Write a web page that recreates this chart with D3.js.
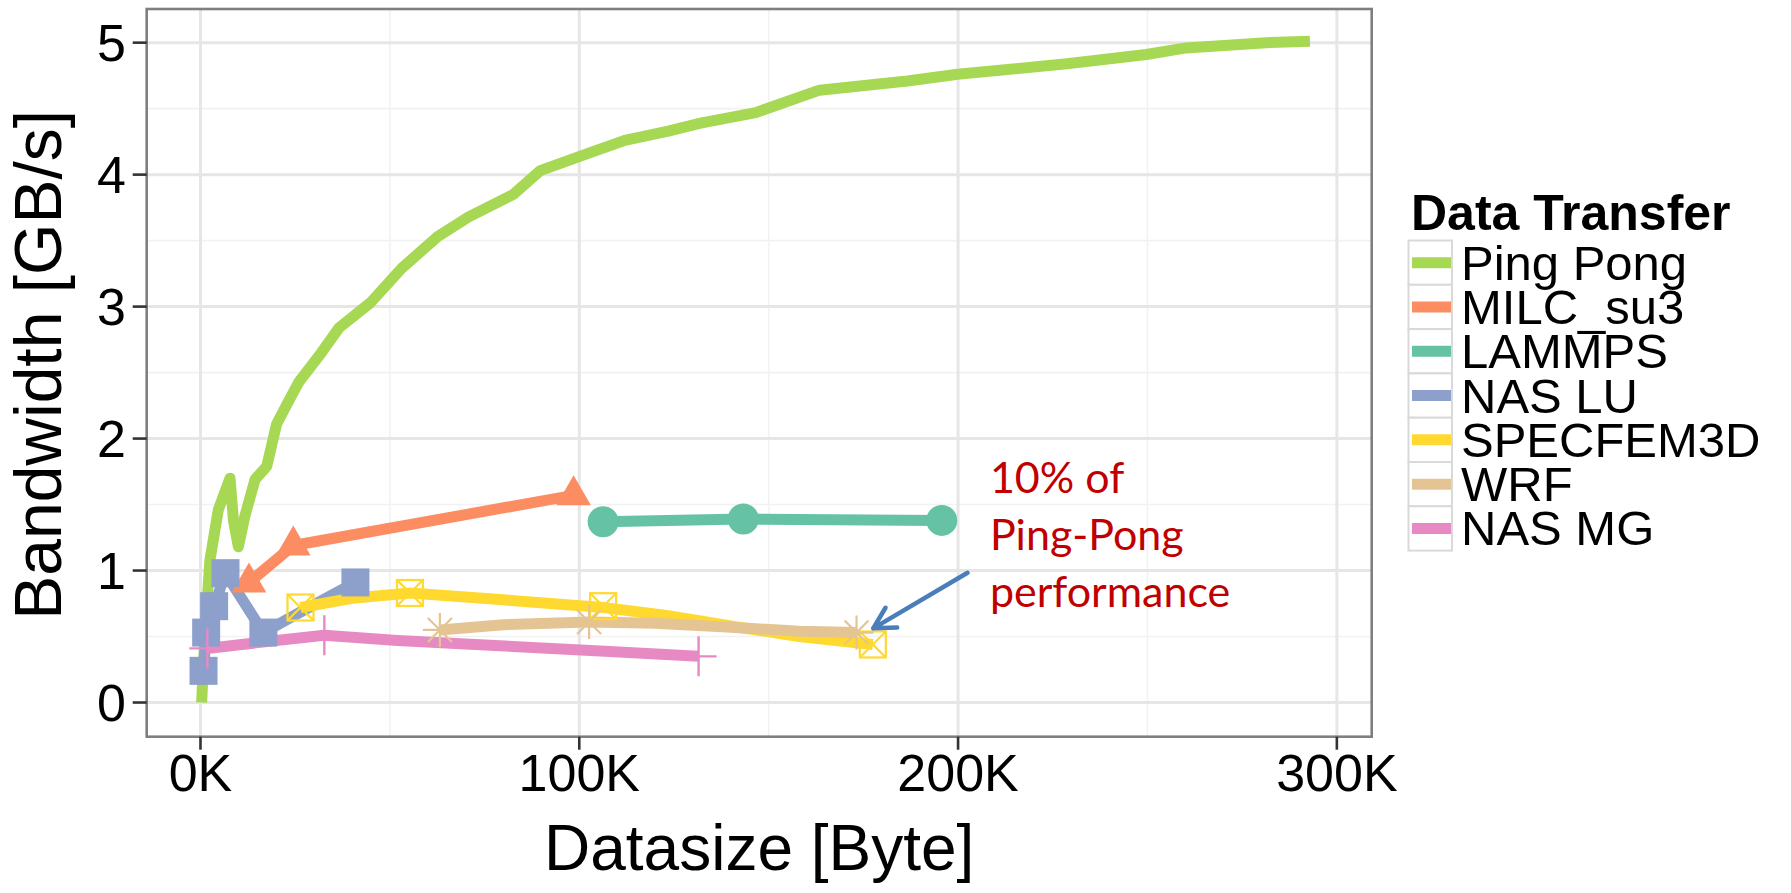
<!DOCTYPE html>
<html><head><meta charset="utf-8">
<script src="https://cdn.jsdelivr.net/npm/d3@7"></script>
<style>
html,body{margin:0;padding:0;background:#fff;}
svg{display:block;}
</style></head>
<body>
<svg id="chart" width="1791" height="893"></svg>
<script>
// ---- data (x in K bytes, y in GB/s) ----
const seriesNames = ["Ping Pong","MILC_su3","LAMMPS","NAS LU","SPECFEM3D","WRF","NAS MG"];
const seriesColors = ["#A6D854","#FC8D62","#66C2A5","#8DA0CB","#FFD92F","#E5C494","#E78AC3"];

const pingPongLine = [[0.3,0.00],[1.2,0.53],[2.5,1.08],[4.7,1.46],[7.8,1.70],[8.7,1.38],[10.0,1.18],[11.7,1.41],[14.4,1.69],[17.5,1.79],[20.1,2.11],[23.0,2.27],[26.0,2.43],[31.9,2.65],[36.6,2.84],[44.9,3.03],[53.1,3.29],[62.6,3.53],[70.8,3.68],[82.6,3.85],[89.7,4.03],[100.3,4.14],[112.0,4.26],[123.5,4.33],[132.0,4.39],[146.6,4.47],[163.4,4.64],[186.6,4.71],[199.9,4.76],[228.7,4.84],[249.7,4.91],[260.2,4.96],[281.3,5.00],[292.9,5.01]];
const milcLine = [[12.8,0.91],[24.5,1.19],[98.5,1.57]];
const milcMarks = [[12.8,0.91],[24.5,1.19],[98.5,1.57]];
const lammpsLine = [[106.3,1.37],[143.3,1.39],[195.7,1.38]];
const lammpsMarks = [[106.3,1.37],[143.3,1.39],[195.7,1.38]];
const nasLuLine = [[0.8,0.24],[1.5,0.53],[3.6,0.73],[6.6,0.98],[16.6,0.53],[25.4,0.67],[40.9,0.91]];
const nasLuMarks = [[0.8,0.24],[1.5,0.53],[3.6,0.73],[6.6,0.98],[16.6,0.53],[40.9,0.91]];
const specfemLine = [[26.4,0.72],[40.0,0.79],[55.3,0.83],[79.0,0.78],[106.3,0.72],[123.0,0.66],[140.0,0.58],[158.0,0.50],[177.5,0.44]];
const specfemMarks = [[26.4,0.72],[55.3,0.83],[106.3,0.73],[177.5,0.44]];
const wrfLine = [[63.2,0.55],[80.0,0.59],[102.6,0.61],[120.0,0.60],[140.0,0.57],[158.0,0.54],[173.2,0.53]];
const wrfMarks = [[63.2,0.55],[102.6,0.61],[173.2,0.53]];
const nasMgLine = [[1.8,0.41],[8.0,0.43],[20.0,0.47],[32.7,0.51],[52.0,0.47],[79.0,0.43],[105.5,0.39],[131.5,0.35]];
const nasMgMarks = [[1.8,0.41],[32.7,0.51],[131.5,0.35]];

const xTicks = [0,100,200,300];
const xTickLabels = ["0K","100K","200K","300K"];
const xMinor = [50,150,250];
const yTicks = [0,1,2,3,4,5];
const yMinor = [0.5,1.5,2.5,3.5,4.5];

const annotationLines = ["10% of","Ping-Pong","performance"];
const annotationAnchor = [208.4, 1.586]; // first baseline in data coords
const arrowFrom = [202.5, 0.983];
const arrowTo = [177.6, 0.562];

// ---- layout ----
const svg = d3.select("#chart");
const P = {left:146.7, right:1371.7, top:9, bottom:736.7};
const x = d3.scaleLinear().domain([-14.2, 309.2]).range([P.left, P.right]);
const y = d3.scaleLinear().domain([-0.259, 5.255]).range([P.bottom, P.top]);
const FONT = "'Liberation Sans', Arial, Helvetica, sans-serif";

svg.append("rect").attr("width",1791).attr("height",893).attr("fill","#fff");

// grid
const g = svg.append("g");
g.selectAll(".ymin").data(yMinor).join("line")
  .attr("x1",P.left).attr("x2",P.right).attr("y1",d=>y(d)).attr("y2",d=>y(d))
  .attr("stroke","#F2F2F2").attr("stroke-width",1.6);
g.selectAll(".xmin").data(xMinor).join("line")
  .attr("y1",P.top).attr("y2",P.bottom).attr("x1",d=>x(d)).attr("x2",d=>x(d))
  .attr("stroke","#F2F2F2").attr("stroke-width",1.6);
g.selectAll(".ymaj").data(yTicks).join("line")
  .attr("x1",P.left).attr("x2",P.right).attr("y1",d=>y(d)).attr("y2",d=>y(d))
  .attr("stroke","#E6E6E6").attr("stroke-width",3);
g.selectAll(".xmaj").data(xTicks).join("line")
  .attr("y1",P.top).attr("y2",P.bottom).attr("x1",d=>x(d)).attr("x2",d=>x(d))
  .attr("stroke","#E6E6E6").attr("stroke-width",3);

// lines
const line = d3.line().x(d=>x(d[0])).y(d=>y(d[1]));
const lines = [pingPongLine, milcLine, lammpsLine, nasLuLine, specfemLine, wrfLine, nasMgLine];
const lg = svg.append("g");
lines.forEach((data,i)=>{
  lg.append("path").datum(data).attr("d",line)
    .attr("fill","none").attr("stroke",seriesColors[i]).attr("stroke-width",11)
    .attr("stroke-linejoin","round").attr("stroke-linecap","butt");
});

// markers
const mg = svg.append("g");
// MILC triangles
mg.selectAll(".tri").data(milcMarks).join("path")
  .attr("d", d3.symbol(d3.symbolTriangle, 520))
  .attr("transform",d=>`translate(${x(d[0])},${y(d[1])})`)
  .attr("fill",seriesColors[1]);
// LAMMPS circles
mg.selectAll(".circ").data(lammpsMarks).join("circle")
  .attr("cx",d=>x(d[0])).attr("cy",d=>y(d[1])).attr("r",15.5)
  .attr("fill",seriesColors[2]);
// NAS LU squares
mg.selectAll(".sq").data(nasLuMarks).join("rect")
  .attr("x",d=>x(d[0])-14).attr("y",d=>y(d[1])-14).attr("width",28).attr("height",28)
  .attr("fill",seriesColors[3]);
// SPECFEM3D square with cross
const sf = mg.selectAll(".sqx").data(specfemMarks).join("g")
  .attr("transform",d=>`translate(${x(d[0])},${y(d[1])})`)
  .attr("stroke",seriesColors[4]).attr("stroke-width",2.2).attr("fill","none");
sf.append("rect").attr("x",-13).attr("y",-13).attr("width",26).attr("height",26);
sf.append("path").attr("d","M-13,-13L13,13M13,-13L-13,13");
// WRF asterisks
const wa = mg.selectAll(".ast").data(wrfMarks).join("g")
  .attr("transform",d=>`translate(${x(d[0])},${y(d[1])})`)
  .attr("stroke",seriesColors[5]).attr("stroke-width",2.2);
wa.append("path").attr("d","M0,-17L0,17M-17,0L17,0M-12,-12L12,12M12,-12L-12,12");
// NAS MG plus
const mp = mg.selectAll(".plus").data(nasMgMarks).join("g")
  .attr("transform",d=>`translate(${x(d[0])},${y(d[1])})`)
  .attr("stroke",seriesColors[6]).attr("stroke-width",2.4);
mp.append("path").attr("d","M0,-20L0,20M-18,0L18,0");

// panel border
svg.append("rect").attr("x",P.left).attr("y",P.top)
  .attr("width",P.right-P.left).attr("height",P.bottom-P.top)
  .attr("fill","none").attr("stroke","#7F7F7F").attr("stroke-width",2.6);

// axes ticks + labels
const ax = svg.append("g");
ax.selectAll(".yt").data(yTicks).join("line")
  .attr("x1",P.left-14).attr("x2",P.left).attr("y1",d=>y(d)).attr("y2",d=>y(d))
  .attr("stroke","#333").attr("stroke-width",2.6);
ax.selectAll(".ytl").data(yTicks).join("text")
  .attr("x",126).attr("y",d=>y(d)+18.8).attr("text-anchor","end")
  .attr("font-family",FONT).attr("font-size",52).attr("fill","#000")
  .text(d=>d);
ax.selectAll(".xt").data(xTicks).join("line")
  .attr("x1",d=>x(d)).attr("x2",d=>x(d)).attr("y1",P.bottom).attr("y2",P.bottom+13)
  .attr("stroke","#333").attr("stroke-width",2.6);
ax.selectAll(".xtl").data(xTicks).join("text")
  .attr("x",d=>x(d)).attr("y",791).attr("text-anchor","middle")
  .attr("font-family",FONT).attr("font-size",52).attr("fill","#000")
  .text((d,i)=>xTickLabels[i]);

// axis titles
svg.append("text").attr("x",(P.left+P.right)/2).attr("y",870).attr("text-anchor","middle")
  .attr("font-family",FONT).attr("font-size",64).attr("fill","#000").text("Datasize [Byte]");
svg.append("text").attr("transform",`translate(61,${(P.top+P.bottom)/2 - 8}) rotate(-90)`)
  .attr("text-anchor","middle")
  .attr("font-family",FONT).attr("font-size",66).attr("fill","#000").text("Bandwidth [GB/s]");

// legend
const leg = svg.append("g");
leg.append("text").attr("x",1411).attr("y",230)
  .attr("font-family",FONT).attr("font-weight","bold").attr("font-size",50).attr("fill","#000")
  .text("Data Transfer");
const rowH = 44.3, top0 = 240.5;
seriesNames.forEach((name,i)=>{
  const ty = top0 + i*rowH;
  leg.append("rect").attr("x",1408.5).attr("y",ty).attr("width",43.5).attr("height",rowH)
    .attr("fill","#fff").attr("stroke","#D9D9D9").attr("stroke-width",2);
  leg.append("line").attr("x1",1412).attr("x2",1451).attr("y1",ty+rowH/2).attr("y2",ty+rowH/2)
    .attr("stroke",seriesColors[i]).attr("stroke-width",11);
  leg.append("text").attr("x",1461).attr("y",ty+rowH/2+17)
    .attr("font-family",FONT).attr("font-size",49).attr("fill","#000").text(name);
});

// annotation
const an = svg.append("g");
annotationLines.forEach((t,i)=>{
  an.append("text").attr("x",x(annotationAnchor[0])).attr("y",y(annotationAnchor[1])+i*57)
    .attr("font-family","Lato, 'Open Sans', sans-serif").attr("font-size",43).attr("fill","#C00000")
    .text(t);
});
const x1=x(arrowFrom[0]), y1=y(arrowFrom[1]), x2=x(arrowTo[0]), y2=y(arrowTo[1]);
const ang = Math.atan2(y2-y1, x2-x1);
const hl = 24, ha = 0.5;
const arm1 = [x2 - hl*Math.cos(ang-ha), y2 - hl*Math.sin(ang-ha)];
const arm2 = [x2 - hl*Math.cos(ang+ha), y2 - hl*Math.sin(ang+ha)];
an.append("path")
  .attr("d",`M${x1},${y1}L${x2},${y2}M${arm1[0]},${arm1[1]}L${x2},${y2}L${arm2[0]},${arm2[1]}`)
  .attr("fill","none").attr("stroke","#4A7EBB").attr("stroke-width",4.5)
  .attr("stroke-linecap","round").attr("stroke-linejoin","round");
</script>
</body></html>
